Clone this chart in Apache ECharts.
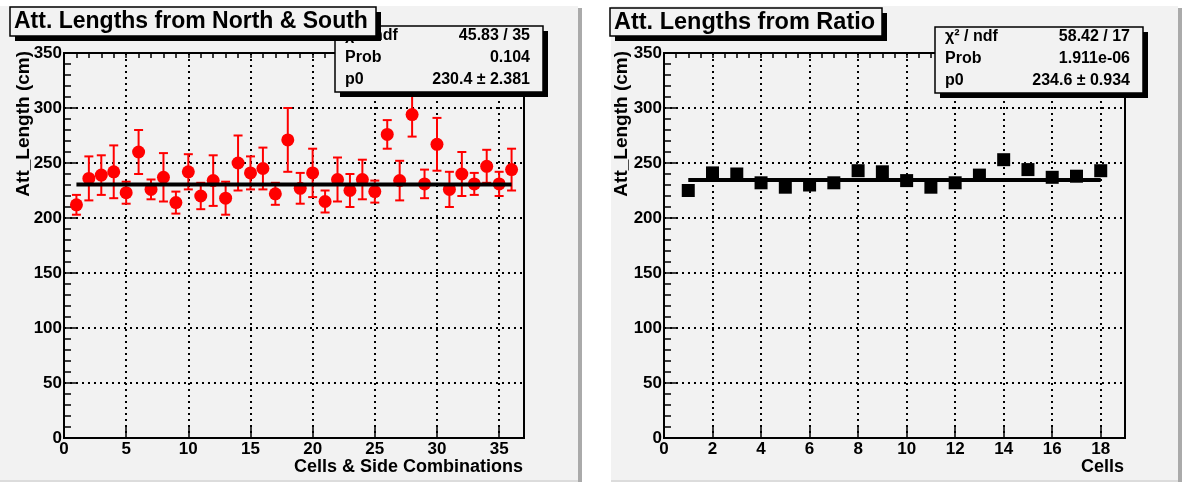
<!DOCTYPE html>
<html>
<head>
<meta charset="utf-8">
<title>Att. Lengths</title>
<script src="https://cdn.jsdelivr.net/npm/echarts@6/dist/echarts.min.js"></script>
<style>
  html, body { margin: 0; padding: 0; background: #fff; }
  #main { width: 1182px; height: 482px; }
</style>
</head>
<body>
<div id="main"></div>
<script>
// left pad: north & south combinations
const nsCells = [1, 2, 3, 4, 5, 6, 7, 8, 9, 10, 11, 12, 13, 14, 15, 16, 17, 18,
                 19, 20, 21, 22, 23, 24, 25, 26, 27, 28, 29, 30, 31, 32, 33, 34, 35, 36];
const nsLength = [212, 236, 239, 242, 223, 260, 226, 237, 214, 242, 220, 234, 218, 250, 241, 245, 222, 271,
                  227, 241, 215, 235, 225, 235, 224, 276, 234, 294, 231, 267, 226, 240, 231, 247, 231, 244];
const nsError = [9, 20, 18, 24, 10, 20, 9, 22, 10, 16, 12, 23, 15, 25, 15, 19, 10, 29,
                 14, 22, 10, 20, 15, 18, 10, 13, 18, 20, 13, 24, 16, 20, 10, 15, 11, 19];
const nsFit = 230.4;
const nsFitRange = [1, 36];
const nsStats = [['χ² / ndf', '45.83 / 35'], ['Prob', '0.104'], ['p0', '230.4 ± 2.381']];

// right pad: ratio
const ratioCells = [1, 2, 3, 4, 5, 6, 7, 8, 9, 10, 11, 12, 13, 14, 15, 16, 17, 18];
const ratioLength = [225, 241, 240, 232, 228, 230, 232, 243, 242, 234, 228, 232, 239, 253, 244, 237, 238, 243];
const ratioFit = 234.6;
const ratioFitRange = [1, 18];
const ratioStats = [['χ² / ndf', '58.42 / 17'], ['Prob', '1.911e-06'], ['p0', '234.6 ± 0.934']];

// axis ranges
const yRange = [0, 350], yStep = 50;
const nsXRange = [0, 37], nsXStep = 5;
const ratioXRange = [0, 19], ratioXStep = 2;

const FONT = '"Liberation Sans", Arial, Helvetica, sans-serif';
const PAD = '#f2f2f2';

const chart = echarts.init(document.getElementById('main'));

function majorX(grid, range, step) {
  return {
    gridIndex: grid, type: 'value', min: range[0], max: range[1], interval: step,
    axisLine: { lineStyle: { color: '#000', width: 2 } },
    axisTick: { inside: true, length: 11, lineStyle: { color: '#000', width: 1.5 } },
    axisLabel: { showMaxLabel: false, margin: 3, color: '#000', fontFamily: FONT, fontWeight: 'bold', fontSize: 17 },
    splitLine: { show: true, lineStyle: { color: '#000', width: 2, type: [2, 4] } }
  };
}
function minorX(grid, range, step) {
  return {
    gridIndex: grid, type: 'value', min: range[0], max: range[1], interval: step,
    axisLine: { show: false },
    axisTick: { inside: true, length: 5, lineStyle: { color: '#000', width: 1.5 } },
    axisLabel: { show: false },
    splitLine: { show: false }
  };
}
function yAx(grid) {
  return {
    gridIndex: grid, type: 'value', min: yRange[0], max: yRange[1], interval: yStep,
    axisLine: { show: true, lineStyle: { color: '#000', width: 2 } },
    axisTick: { show: true, inside: true, length: 14, lineStyle: { color: '#000', width: 1.5 } },
    minorTick: { show: true, splitNumber: 5, length: 7, lineStyle: { color: '#000', width: 1.5 } },
    axisLabel: { margin: 2, color: '#000', fontFamily: FONT, fontWeight: 'bold', fontSize: 17 },
    splitLine: { show: true, lineStyle: { color: '#000', width: 2, type: [2, 4] } }
  };
}

function errorBarItem(params, api) {
  const x = api.value(0), v = api.value(1), e = api.value(2);
  const hi = api.coord([x, v + e]);
  const lo = api.coord([x, v - e]);
  const cap = 4.5;
  const style = { stroke: '#ff0000', lineWidth: 2, fill: null };
  return {
    type: 'group',
    children: [
      { type: 'line', shape: { x1: hi[0], y1: hi[1], x2: lo[0], y2: lo[1] }, style: style },
      { type: 'line', shape: { x1: hi[0] - cap, y1: hi[1], x2: hi[0] + cap, y2: hi[1] }, style: style },
      { type: 'line', shape: { x1: lo[0] - cap, y1: lo[1], x2: lo[0] + cap, y2: lo[1] }, style: style }
    ]
  };
}

function shadowBox(x, y, w, h, z) {
  return [
    { type: 'rect', z: z, silent: true, shape: { x: x + 5, y: y + 5, width: w, height: h }, style: { fill: '#000' } },
    { type: 'rect', z: z + 1, silent: true, shape: { x: x, y: y, width: w, height: h },
      style: { fill: PAD, stroke: '#000', lineWidth: 1.5 } }
  ];
}
function txt(x, y, s, size, align, z, rot) {
  return {
    type: 'text', z: z, silent: true, x: x, y: y, rotation: rot || 0,
    style: { text: s, fill: '#000', font: 'bold ' + size + 'px ' + FONT, align: align, verticalAlign: 'middle' }
  };
}
function statsBox(x, y, rows) {
  const els = shadowBox(x, y, 208, 66, 50);
  rows.forEach((r, i) => {
    els.push(txt(x + 10, y + 10 + i * 22, r[0], 16, 'left', 53));
    els.push(txt(x + 195, y + 10 + i * 22, r[1], 16, 'right', 53));
  });
  return els;
}

const graphics = [].concat(
  // pads
  [{ type: 'rect', z: -10, silent: true, shape: { x: 0, y: 6, width: 578, height: 474 }, style: { fill: PAD } },
   { type: 'rect', z: -10, silent: true, shape: { x: 578, y: 8, width: 4, height: 474 }, style: { fill: '#aaaaaa' } },
   { type: 'rect', z: -10, silent: true, shape: { x: 0, y: 480, width: 578, height: 2 }, style: { fill: '#dcdcdc' } },
   { type: 'rect', z: -10, silent: true, shape: { x: 611, y: 6, width: 567, height: 474 }, style: { fill: PAD } },
   { type: 'rect', z: -10, silent: true, shape: { x: 1178, y: 8, width: 4, height: 474 }, style: { fill: '#aaaaaa' } },
   { type: 'rect', z: -10, silent: true, shape: { x: 611, y: 480, width: 567, height: 2 }, style: { fill: '#dcdcdc' } }],
  statsBox(335, 26, nsStats),
  statsBox(935, 27, ratioStats),
  shadowBox(10, 7, 366, 29, 60),
  [txt(14, 22, 'Att. Lengths from North & South', 23, 'left', 63)],
  shadowBox(610, 8, 272, 28, 60),
  [txt(614, 22.5, 'Att. Lengths from Ratio', 23.5, 'left', 63)],
  [txt(523, 467, 'Cells & Side Combinations', 18, 'right', 20),
   txt(1124, 467, 'Cells', 18, 'right', 20),
   txt(24, 51, 'Att_Length (cm)', 19, 'right', 20, Math.PI / 2),
   txt(622, 51, 'Att_Length (cm)', 19, 'right', 20, Math.PI / 2)]
);

const option = {
  animation: false,
  backgroundColor: '#fff',
  grid: [
    { left: 64, top: 53, width: 460, height: 385, show: true, backgroundColor: PAD, borderColor: '#000', borderWidth: 2 },
    { left: 664, top: 53, width: 461, height: 385, show: true, backgroundColor: PAD, borderColor: '#000', borderWidth: 2 }
  ],
  xAxis: [
    majorX(0, nsXRange, nsXStep),
    minorX(0, nsXRange, 1),
    majorX(1, ratioXRange, ratioXStep),
    minorX(1, ratioXRange, 0.5)
  ],
  yAxis: [yAx(0), yAx(1)],
  graphic: { elements: graphics },
  series: [
    {
      type: 'custom', xAxisIndex: 0, yAxisIndex: 0, z: 2,
      renderItem: errorBarItem,
      encode: { x: 0, y: 1 },
      data: nsCells.map((c, i) => [c, nsLength[i], nsError[i]])
    },
    {
      type: 'scatter', xAxisIndex: 0, yAxisIndex: 0, z: 3,
      symbol: 'circle', symbolSize: 13,
      itemStyle: { color: '#ff0000', opacity: 1 },
      data: nsCells.map((c, i) => [c, nsLength[i]])
    },
    {
      type: 'line', xAxisIndex: 0, yAxisIndex: 0, z: 4, silent: true,
      showSymbol: false, symbol: 'none',
      lineStyle: { color: '#000', width: 4 },
      data: nsFitRange.map(x => [x, nsFit])
    },
    {
      type: 'scatter', xAxisIndex: 2, yAxisIndex: 1, z: 3,
      symbol: 'rect', symbolSize: 13,
      itemStyle: { color: '#000', opacity: 1 },
      data: ratioCells.map((c, i) => [c, ratioLength[i]])
    },
    {
      type: 'line', xAxisIndex: 2, yAxisIndex: 1, z: 4, silent: true,
      showSymbol: false, symbol: 'none',
      lineStyle: { color: '#000', width: 4 },
      data: ratioFitRange.map(x => [x, ratioFit])
    }
  ]
};

chart.setOption(option);
</script>
</body>
</html>
